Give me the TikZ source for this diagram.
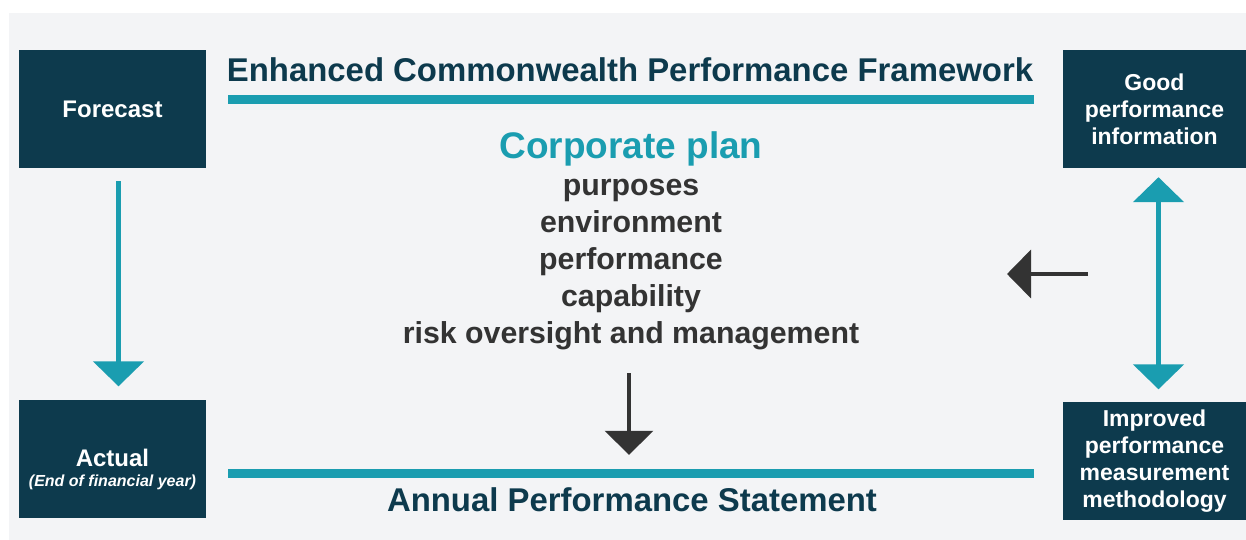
\documentclass[tikz,border=0pt]{standalone}
\usepackage{fontspec}
\setmainfont{Liberation Sans}
\usetikzlibrary{arrows.meta,positioning}
\definecolor{deepnavy}{HTML}{0D3A4D}
\definecolor{planteal}{HTML}{1A9DB0}
\definecolor{softgrey}{HTML}{F3F4F6}
\definecolor{darkink}{HTML}{333333}
\tikzset{
  stage/.style={fill=deepnavy,text=white,align=center,inner sep=0pt,
                minimum width=187pt,minimum height=118pt,
                font=\fontsize{23}{27}\selectfont\bfseries},
  bar/.style={fill=planteal,inner sep=0pt,minimum width=806pt,minimum height=9pt},
  heading/.style={anchor=base,inner sep=0pt,text=deepnavy,
                  font=\fontsize{32.9}{39}\selectfont\bfseries},
  flowdown/.style={-{Triangle[width=50pt,length=25pt]},draw=planteal,line width=5.5pt},
  twoway/.style={{Triangle[width=50pt,length=25pt]}-{Triangle[width=50pt,length=25pt]},
                 draw=planteal,line width=5.5pt},
  planarrow/.style={-{Triangle[width=48pt,length=24pt]},draw=darkink,line width=4pt}
}

\begin{document}
\begin{tikzpicture}[x=1pt,y=-1pt,
  item/.style={anchor=base,inner sep=0pt,text=darkink,
               font=\fontsize{30.3}{36}\selectfont\bfseries},
  note/.style={anchor=base,inner sep=0pt,text=white}
]
  \useasboundingbox (0,0) rectangle (1246,540);
  \fill[softgrey] (9,13) rectangle (1246,540);

  % stages on the left and right
  \node[stage,font=\fontsize{24}{29}\selectfont\bfseries] (forecast) at (112.5,109) {Forecast};
  \node[stage] (actual) at (112.5,458.5) {};
  \node[note,font=\fontsize{24}{29}\selectfont\bfseries] (actualname)
    at ([yshift=-7.5pt]actual.center) {Actual};
  \node[note,font=\fontsize{16}{19}\selectfont\bfseries\itshape] (actualwhen)
    at ([yshift=-27.5pt]actual.center) {(End of financial year)};
  \node[stage,minimum width=183pt] (goodinfo) at (1154.5,109)
    {Good\\performance\\information};
  \node[stage,minimum width=183pt] (improved) at (1154.5,461)
    {Improved\\performance\\measurement\\methodology};

  % framework heading and corporate plan
  \node[heading] (framework) at (630,81.5) {Enhanced Commonwealth Performance Framework};
  \node[bar] (topbar) at (631,99.5) {};
  \node[heading,text=planteal,font=\fontsize{37}{44}\selectfont\bfseries] (plan)
    at (631,158.5) {Corporate plan};
  \foreach \txt [count=\i] in {purposes,environment,performance,capability,
                               risk oversight and management}
    \node[item] (item\i) at (631,158+37*\i) {\txt};
  \node[bar] (botbar) at (631,473) {};
  \node[heading] (statement) at (632,511.5) {Annual Performance Statement};

  \draw[flowdown,shorten <=13pt,shorten >=13pt]
    ([xshift=6pt]forecast.south) -- ([xshift=6pt]actual.north);
  \draw[twoway,shorten <=9pt,shorten >=12.5pt]
    ([xshift=4pt]goodinfo.south) -- ([xshift=4pt]improved.north);
  \draw[planarrow,shorten <=23.5pt,shorten >=13.5pt]
    ([xshift=-2pt]item5.south) -- ([xshift=-2pt]botbar.north);

  \coordinate (feedin) at (1088,274);
  \coordinate (feedout) at (1007,274);
  \draw[planarrow] (feedin) -- (feedout);
\end{tikzpicture}
\end{document}
